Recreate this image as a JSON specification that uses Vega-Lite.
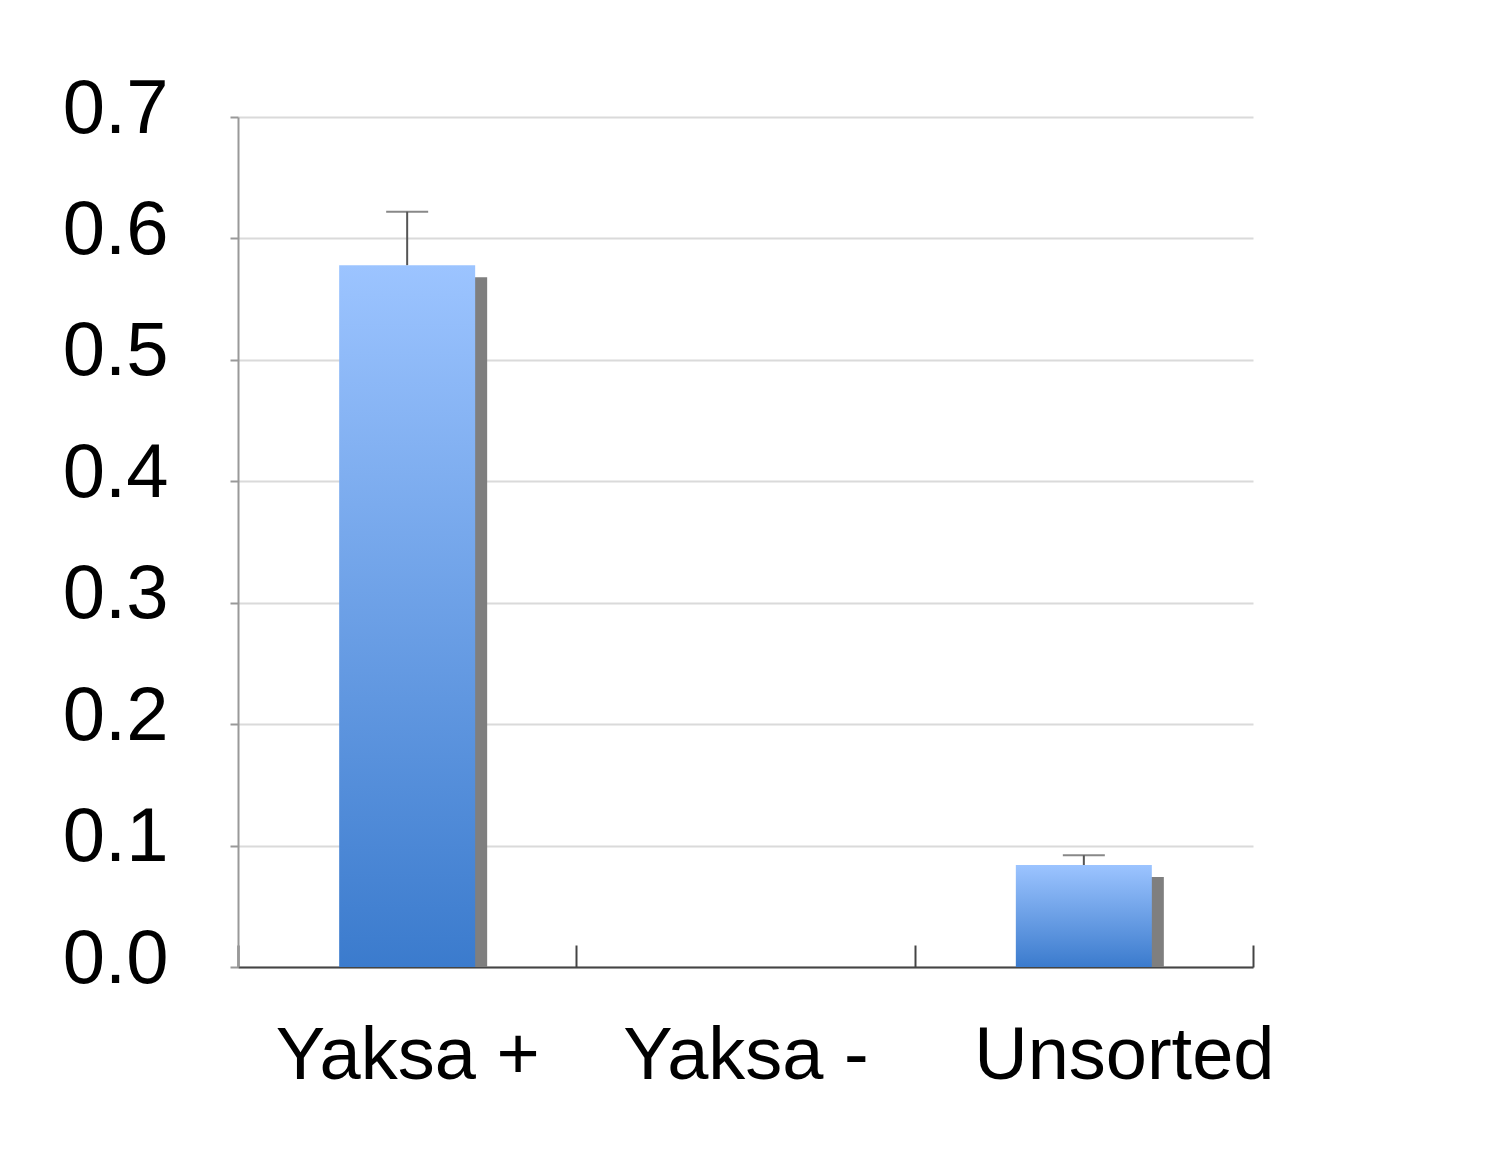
{
  "$schema": "https://vega.github.io/schema/vega-lite/v6.json",
  "autosize": {"type": "none"},
  "padding": {"left": 238, "top": 117, "right": 250, "bottom": 204},
  "width": 1015,
  "height": 850,
  "background": "white",
  "config": {"view": {"stroke": null}, "font": "Liberation Sans"},
  "data": {"values": [
    {"group": "Yaksa +", "value": 0.578, "upper": 0.622},
    {"group": "Yaksa -", "value": 0, "upper": null},
    {"group": "Unsorted", "value": 0.084, "upper": 0.092}
  ]},
  "encoding": {
    "x": {
      "field": "group", "type": "nominal", "sort": null, "title": null,
      "scale": {"paddingInner": 0, "paddingOuter": 0},
      "axis": {
        "labelAngle": 0, "labelFontSize": 74, "labelColor": "#000", "labelLimit": 0,
        "labelPadding": 75, "tickBand": "extent", "tickSize": -22,
        "tickColor": "#444", "tickWidth": 2, "domainColor": "#444", "domainWidth": 2,
        "labelOffset": {"condition": {"test": "datum.value == 'Unsorted'", "value": 40}, "value": 0}
      }
    }
  },
  "layer": [
    {
      "mark": {"type": "bar", "color": "#7f7f7f", "width": 136, "xOffset": 12, "yOffset": 12, "clip": true},
      "encoding": {
        "y": {"field": "value", "type": "quantitative"}
      }
    },
    {
      "mark": {"type": "bar", "width": 136,
        "color": {"gradient": "linear", "x1": 0, "y1": 0, "x2": 0, "y2": 1,
          "stops": [{"offset": 0, "color": "#9cc4ff"}, {"offset": 1, "color": "#3b7bcd"}]}},
      "encoding": {
        "y": {
          "field": "value", "type": "quantitative", "title": null,
          "scale": {"domain": [0, 0.7], "nice": false},
          "axis": {
            "values": [0, 0.1, 0.2, 0.3, 0.4, 0.5, 0.6, 0.7], "format": ".1f",
            "labelFontSize": 76, "labelColor": "#000", "labelPadding": 62, "labelOffset": -8,
            "tickSize": 8, "tickColor": "#999", "tickWidth": 2,
            "domainColor": "#999", "domainWidth": 2,
            "grid": true, "gridColor": "#dadada", "gridWidth": 2
          }
        }
      }
    },
    {
      "mark": {"type": "rule", "color": "#555", "strokeWidth": 2},
      "encoding": {
        "y": {"field": "value", "type": "quantitative"},
        "y2": {"field": "upper"}
      }
    },
    {
      "mark": {"type": "tick", "color": "#555", "thickness": 2, "size": 42},
      "encoding": {
        "y": {"field": "upper", "type": "quantitative"}
      }
    }
  ]
}
